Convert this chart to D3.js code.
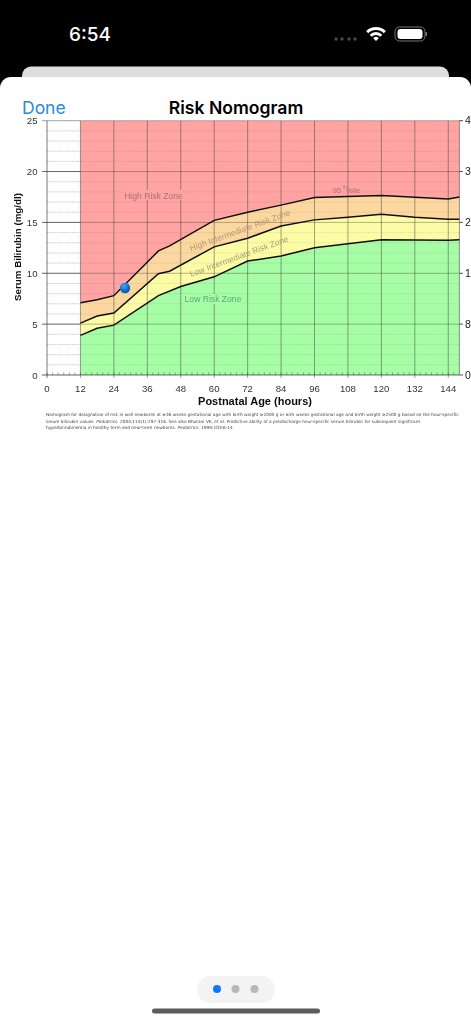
<!DOCTYPE html>
<html><head><meta charset="utf-8">
<script src="https://cdn.jsdelivr.net/npm/d3@7/dist/d3.min.js"></script>
<style>html,body{margin:0;padding:0;background:#000;overflow:hidden;width:471px;height:1023px}svg{display:block}</style>
</head><body><svg id="c" width="471" height="1023"></svg>
<script>
const p95Hours=[12,18,24,40,44,60,72,84,96,120,144,148];
const p95Values=[7.1,7.4,7.8,12.2,12.7,15.2,16.0,16.7,17.45,17.65,17.3,17.5];
const p75Hours=[12,18,24,40,44,60,72,84,96,108,120,132,144,148];
const p75Values=[5.1,5.8,6.1,9.95,10.2,12.6,13.45,14.65,15.25,15.5,15.8,15.5,15.3,15.3];
const p40Hours=[12,18,24,40,48,60,72,84,96,120,144,148];
const p40Values=[3.9,4.6,4.9,7.8,8.7,9.65,11.2,11.7,12.5,13.3,13.25,13.3];
const xTicks=[0,12,24,36,48,60,72,84,96,108,120,132,144];
const yTicks=[0,5,10,15,20,25];
const rightLabels=["0","85","171","257","342","428"];
const patientHour=[28];const patientValue=[8.55];

const svg=d3.select("#c");
const FONT="'Liberation Sans',Arial,sans-serif";
const UI="Inter,'Liberation Sans',sans-serif";
const x=d3.scaleLinear().domain([0,148]).range([47,459.4]);
const y=d3.scaleLinear().domain([0,25]).range([375,120.7]);

const defs=svg.append("defs");
defs.append("filter").attr("id","soft").attr("x","-5%").attr("y","-5%").attr("width","110%").attr("height","110%").append("feGaussianBlur").attr("stdDeviation",0.4);
const rg=defs.append("radialGradient").attr("id","ball").attr("cx","40%").attr("cy","30%").attr("r","75%");
rg.append("stop").attr("offset","0").attr("stop-color","#3fa9f0");
rg.append("stop").attr("offset","0.6").attr("stop-color","#0d6fd0");
rg.append("stop").attr("offset","1").attr("stop-color","#0a4fa8");

svg.append("rect").attr("x",22).attr("y",66.5).attr("width",427).attr("height",40).attr("rx",9).attr("fill","#dedede");
svg.append("rect").attr("x",0).attr("y",77).attr("width",471).attr("height",960).attr("rx",11).attr("fill","#fff");

const uiTxt=(t,xx,yy,sz,w,col,anc)=>svg.append("text").text(t).attr("x",xx).attr("y",yy).attr("font-size",sz).attr("font-weight",w).attr("fill",col).attr("text-anchor",anc||"start").attr("font-family",UI);
uiTxt("6:54",69,41,19,500,"#fff");
[336,342,349,355].forEach(c=>svg.append("circle").attr("cx",c).attr("cy",39).attr("r",1.7).attr("fill","#4a4a4a"));
const wifi=svg.append("g").attr("transform","translate(376,41)");
[[11,14],[6,9]].forEach(([r0,r1])=>wifi.append("path").attr("d",d3.arc()({innerRadius:r0,outerRadius:r1,startAngle:-Math.PI/4,endAngle:Math.PI/4,cornerRadius:.6})).attr("fill","#fff"));
wifi.append("path").attr("d",d3.arc()({innerRadius:0,outerRadius:4,startAngle:-Math.PI/4,endAngle:Math.PI/4})).attr("fill","#fff");
svg.append("rect").attr("x",395).attr("y",27).attr("width",30).attr("height",14).attr("rx",4.5).attr("fill","none").attr("stroke","#777");
svg.append("rect").attr("x",397.5).attr("y",29).attr("width",25).attr("height",10).attr("rx",3).attr("fill","#fff");
svg.append("rect").attr("x",425.5).attr("y",32).attr("width",1.5).attr("height",4).attr("fill","#777");

uiTxt("Done",22,113.5,17.5,400,"#2a8be0");
uiTxt("Risk Nomogram",236,113.5,17.6,600,"#000","middle");

const g=svg.append("g").attr("filter","url(#soft)");

const area=(hs,vs)=>d3.line()(hs.map((h,i)=>[x(h),y(vs[i])]));
const band=(hU,vU,hL,vL,col)=>{
  const top=hU.map((h,i)=>[x(h),y(vU[i])]);
  const bot=hL.map((h,i)=>[x(h),y(vL[i])]).reverse();
  g.append("path").attr("d",d3.line()(top.concat(bot))+"Z").attr("fill",col);
};
const hEnds=[12,148];
band(hEnds,[25,25],p95Hours,p95Values,"#ffa3a3");
band(p95Hours,p95Values,p75Hours,p75Values,"#fcd8a0");
band(p75Hours,p75Values,p40Hours,p40Values,"#fdfca6");
band(p40Hours,p40Values,hEnds,[0,0],"#a6fda6");

// grid
d3.range(1,25).filter(v=>v%5).forEach(v=>{
  g.append("line").attr("x1",x(0)).attr("x2",x(12)).attr("y1",y(v)).attr("y2",y(v))
   .attr("stroke","#555").attr("stroke-opacity",.45).attr("stroke-width",.7).attr("stroke-dasharray","1.5 1");
  g.append("line").attr("x1",x(12)).attr("x2",x(148)).attr("y1",y(v)).attr("y2",y(v))
   .attr("stroke","#555").attr("stroke-opacity",.22).attr("stroke-width",.7).attr("stroke-dasharray","1.5 1");
});
yTicks.forEach(v=>{
  g.append("line").attr("x1",x(0)-5).attr("x2",x(12)).attr("y1",y(v)).attr("y2",y(v))
   .attr("stroke","#333").attr("stroke-opacity",v===25?.5:.85).attr("stroke-width",.9);
  g.append("line").attr("x1",x(12)).attr("x2",x(148)).attr("y1",y(v)).attr("y2",y(v))
   .attr("stroke","#333").attr("stroke-opacity",v===0?.8:.4).attr("stroke-width",.9);
  g.append("line").attr("x1",x(148)).attr("x2",x(148)+3.5).attr("y1",y(v)).attr("y2",y(v))
   .attr("stroke","#333").attr("stroke-width",.9);
});
xTicks.forEach(v=>{
  g.append("line").attr("x1",x(v)).attr("x2",x(v)).attr("y1",y(25)).attr("y2",y(0)+3)
   .attr("stroke","#333").attr("stroke-opacity",v===0?.5:.45).attr("stroke-width",v===0?1.3:1);
});
g.append("line").attr("x1",x(148)).attr("x2",x(148)).attr("y1",y(25)).attr("y2",y(0)).attr("stroke","#555").attr("stroke-opacity",.7).attr("stroke-width",.9);
d3.range(0,148,2).forEach(h=>{
  g.append("line").attr("x1",x(h)).attr("x2",x(h)).attr("y1",y(0)).attr("y2",y(0)-2.5).attr("stroke","#333").attr("stroke-width",.6).attr("stroke-opacity",.7);
});

// zone label backings, breaking the grid behind the words
g.append("rect").attr("x",124).attr("y",190).attr("width",59).attr("height",10).attr("fill","#ffa3a3");
g.append("rect").attr("x",185).attr("y",294).attr("width",56).attr("height",10).attr("fill","#a6fda6");

// curves
[[p95Hours,p95Values],[p75Hours,p75Values],[p40Hours,p40Values]].forEach(([h,v])=>{
  g.append("path").attr("d",area(h,v)).attr("fill","none").attr("stroke","#111").attr("stroke-width",1.5);
});

const chartTxt=(t,xx,yy,sz,col,rot,anc,bold)=>{
  const e=g.append("text").text(t).attr("x",xx).attr("y",yy).attr("font-size",sz).attr("fill",col)
   .attr("text-anchor",anc||"middle").attr("font-family",FONT).attr("font-weight",bold?700:400);
  if(rot) e.attr("transform",`rotate(${rot} ${xx} ${yy})`);
  return e;
};
yTicks.forEach(v=>chartTxt(String(v),37.5,y(v)+3.5,9.6,"#333",0,"end"));
yTicks.forEach((v,i)=>chartTxt(rightLabels[i],465,y(v)+3.5,10.5,"#222",0,"start"));
xTicks.forEach(v=>chartTxt(String(v),x(v),392,9.6,"#333"));
chartTxt("Postnatal Age (hours)",255,405,11,"#111",0,"middle",true);
chartTxt("Serum Bilirubin (mg/dl)",21,247,9.75,"#111",-90,"middle",true);

// zone labels
chartTxt("High Risk Zone",153.5,198.5,8.6,"#b06f76");
chartTxt("Low Risk Zone",213,302,8.6,"#5fa873");
chartTxt("High Intermediate Risk Zone",241,233,8.4,"#b09a72",-20);
chartTxt("Low Intermediate Risk Zone",240,259,8.4,"#a89f72",-20);
chartTxt("95",337,192.5,7.5,"#a87075");
chartTxt("th",345,189,4.5,"#a87075");
chartTxt("%ile",353,193,7.5,"#a87075");

// footnote
const note=[
 [["Nomogram for designation of risk in well newborns at \u226536 weeks gestational age with birth weight \u22652000 g or \u226535 weeks gestational age and birth weight \u22652500 g based on the hour-specific",0]],
 [["serum bilirubin values. ",0],["Pediatrics.",1],[" 2004;114(1):297-316.  See also Bhutani VK, et al. Predictive ability of a predischarge hour-specific serum bilirubin for subsequent significant",0]],
 [["hyperbilirubinemia in healthy term and near-term newborns. ",0],["Pediatrics.",1],[" 1999;103:6-14",0]]
];
note.forEach((parts,i)=>{
  const t=g.append("text").attr("x",46).attr("y",416.2+i*6.5).attr("font-size",4.29).attr("fill","#444").attr("font-family","'DejaVu Sans',sans-serif");
  parts.forEach(([s,it])=>t.append("tspan").text(s).attr("font-style",it?"italic":"normal"));
});

// patient point
svg.selectAll("circle.pt").data(patientHour).join("circle").attr("class","pt")
  .attr("cx",d=>x(d)).attr("cy",(d,i)=>y(patientValue[i])).attr("r",5.2).attr("fill","url(#ball)");

// page dots
svg.append("rect").attr("x",197).attr("y",976).attr("width",78).attr("height",27).attr("rx",13.5).attr("fill","#f3f3f4");
[[217,"#0a7bff"],[235.5,"#b8b8b8"],[254.5,"#b8b8b8"]].forEach(([c,f])=>svg.append("circle").attr("cx",c).attr("cy",989).attr("r",4).attr("fill",f));
svg.append("rect").attr("x",152).attr("y",1008.5).attr("width",168).attr("height",5).attr("rx",2.5).attr("fill","#5c5c5c");
</script></body></html>
